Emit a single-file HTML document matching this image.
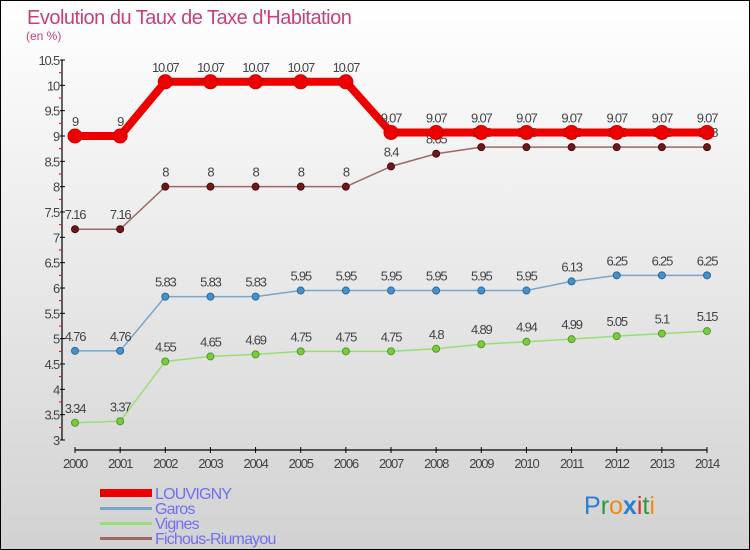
<!DOCTYPE html>
<html><head><meta charset="utf-8"><style>
html,body{margin:0;padding:0}
body{width:750px;height:550px;overflow:hidden;font-family:"Liberation Sans",sans-serif}
#wrap{position:relative;width:748px;height:548px;border:1px solid #000;background:linear-gradient(#ffffff,#d2d2d2)}
svg{position:absolute;left:0;top:0}
</style></head><body>
<div id="wrap">
<svg id="chart" width="748" height="548" viewBox="1 1 748 548">
<text x="27" y="24" font-size="20" fill="#c8407a" letter-spacing="-0.5">Evolution du Taux de Taxe d'Habitation</text>
<text x="26" y="40" font-size="12" fill="#c8407a">(en %)</text>
<g id="axes"></g><g id="series"></g>
<g>
<rect x="100" y="489" width="52" height="8" fill="#ee0000"/>
<text x="155" y="499" font-size="16" fill="#7070f0" letter-spacing="-0.8">LOUVIGNY</text>
<rect x="100" y="507" width="52" height="3" fill="#7aa6cc"/>
<text x="155" y="514" font-size="16" fill="#7070f0" letter-spacing="-0.8">Garos</text>
<rect x="100" y="522" width="52" height="3" fill="#99dd77"/>
<text x="155" y="529" font-size="16" fill="#7070f0" letter-spacing="-0.8">Vignes</text>
<rect x="100" y="537" width="52" height="3" fill="#9a6a6a"/>
<text x="155" y="544" font-size="16" fill="#7070f0" letter-spacing="-0.8">Fichous-Riumayou</text>
</g>
<g font-size="25">
<text x="584" y="514"><tspan fill="#2a7fd4">P</tspan><tspan fill="#2a9a3a">r</tspan><tspan fill="#f08a10">o</tspan><tspan fill="#2a7fd4" font-weight="bold">x</tspan><tspan fill="#e03020">i</tspan><tspan fill="#2a9a3a">t</tspan><tspan fill="#f08a10">i</tspan></text>
</g>
</svg>
</div>
<script>
const years=[2000,2001,2002,2003,2004,2005,2006,2007,2008,2009,2010,2011,2012,2013,2014];
const yTicks=[3,3.5,4,4.5,5,5.5,6,6.5,7,7.5,8,8.5,9,9.5,10,10.5];
const louvigny=[9,9,10.07,10.07,10.07,10.07,10.07,9.07,9.07,9.07,9.07,9.07,9.07,9.07,9.07];
const garos=[4.76,4.76,5.83,5.83,5.83,5.95,5.95,5.95,5.95,5.95,5.95,6.13,6.25,6.25,6.25];
const vignes=[3.34,3.37,4.55,4.65,4.69,4.75,4.75,4.75,4.8,4.89,4.94,4.99,5.05,5.1,5.15];
const fichous=[7.16,7.16,8,8,8,8,8,8.4,8.65,8.78,8.78,8.78,8.78,8.78,8.78];
const NS="http://www.w3.org/2000/svg";
const x=i=>75+i*(707-75)/(years.length-1);
const y=v=>440-(v-3)*(380/7.5);
function mk(tag,attrs,parent){const e=document.createElementNS(NS,tag);for(const k in attrs)e.setAttribute(k,attrs[k]);parent.appendChild(e);return e;}
const ax=document.getElementById('axes');
let e=mk('line',{x1:62,y1:y(10.5),x2:62,y2:y(3),stroke:'#000','stroke-width':1.2},ax);


e=mk('line',{x1:75,y1:450,x2:707,y2:450,stroke:'#000','stroke-width':1.2},ax);


yTicks.forEach(v=>{
  mk('line',{x1:60,x2:65,y1:y(v),y2:y(v),stroke:'#000'},ax);
  if(v<10.5) mk('line',{x1:59,x2:62,y1:y(v+0.25),y2:y(v+0.25),stroke:'#e00'},ax);
  const t=mk('text',{x:59,y:y(v)+5,'text-anchor':'end','font-size':13,fill:'#444','letter-spacing':'-1.2'},ax);
  t.textContent=String(v);
  
  
});
years.forEach((yr,i)=>{
  mk('line',{x1:x(i),x2:x(i),y1:447,y2:453,stroke:'#000'},ax);
  const t=mk('text',{x:x(i),y:468,'text-anchor':'middle','font-size':13,fill:'#444','letter-spacing':'-1.2'},ax);
  t.textContent=String(yr);
  
  
});
const sg=document.getElementById('series');
function draw(arr,name,color,dot,stroke,w,r){
  const g=mk('g',{},sg);
  
  
  const p=mk('polyline',{points:arr.map((v,i)=>x(i)+','+y(v)).join(' '),fill:'none',stroke:color,'stroke-width':w,'stroke-linejoin':'round'},g);
  
  
  arr.forEach((v,i)=>{
    const c=mk('circle',{cx:x(i),cy:y(v),r:r,fill:dot,stroke:stroke,'stroke-width':1},g);
    
    
    const t=mk('text',{x:x(i),y:y(v)-10,'text-anchor':'middle','font-size':13,fill:'#444','letter-spacing':'-1.2'},g);
    t.textContent=String(v);
    
    
  });
}
draw(vignes,'vignes','#99dd77','#77cc44','#559922',1.5,3.5);
draw(garos,'garos','#7aa6cc','#4a90c8','#2a6a9a',1.5,3.5);
draw(fichous,'fichous','#9a6a6a','#6a1a1a','#4a0a0a',1.5,3.5);
draw(louvigny,'louvigny','#ee0000','#ee0000','#cc0000',8,7);
</script>
</body></html>
